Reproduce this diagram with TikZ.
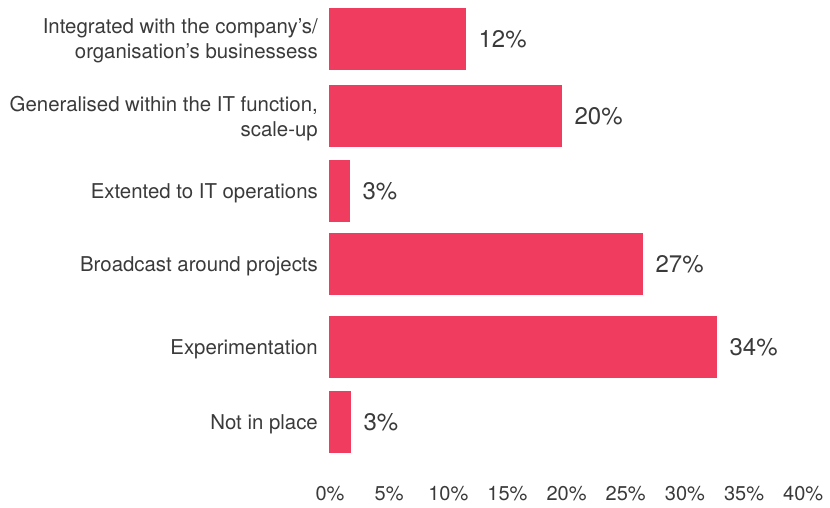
\documentclass[tikz,border=0pt]{standalone}
\usepackage{fontspec}
\setmainfont{TeX Gyre Heros}
\usetikzlibrary{positioning}
\definecolor{barred}{HTML}{F03C5F}
\definecolor{txtgray}{HTML}{3A3A3A}

\begin{document}
\begin{tikzpicture}[x=1pt,y=-1pt,
		bar/.style={fill=barred,draw=none,inner sep=0pt,anchor=north west,minimum height=62pt},
		cat/.style={align=right,inner sep=0pt,text=txtgray,font=\fontsize{20.4}{25}\selectfont},
		val/.style={inner sep=0pt,text=txtgray,font=\fontsize{24}{26}\selectfont},
		tick/.style={inner sep=0pt,text=txtgray,font=\fontsize{20}{22}\selectfont}]
		\useasboundingbox (0,0) rectangle (830,507);
		% bars: index / top / length / value / category
		\foreach \i/\t/\w/\v/\lab in {
			1/8/137/12/{Integrated with the company’s/\\organisation’s businessess},
			2/85/233/20/{Generalised within the IT function,\\scale-up},
			3/160/21/3/{Extented to IT operations},
			4/233/314/27/{Broadcast around projects},
			5/316/388/34/{Experimentation},
			6/391/22/3/{Not in place}}{
			\node[bar,minimum width=\w pt] (b\i) at (329,\t) {};
			\node[cat,left=11pt of b\i,yshift=-2pt] (c\i) {\lab};
			\node[val,right=12pt of b\i] (v\i) {\v\%};
		}
		% x axis labels
		\foreach \p in {0,5,...,40}
			\node[tick] (t\p) at (330+\p*11.83,494) {\p\%};
\end{tikzpicture}
\end{document}
